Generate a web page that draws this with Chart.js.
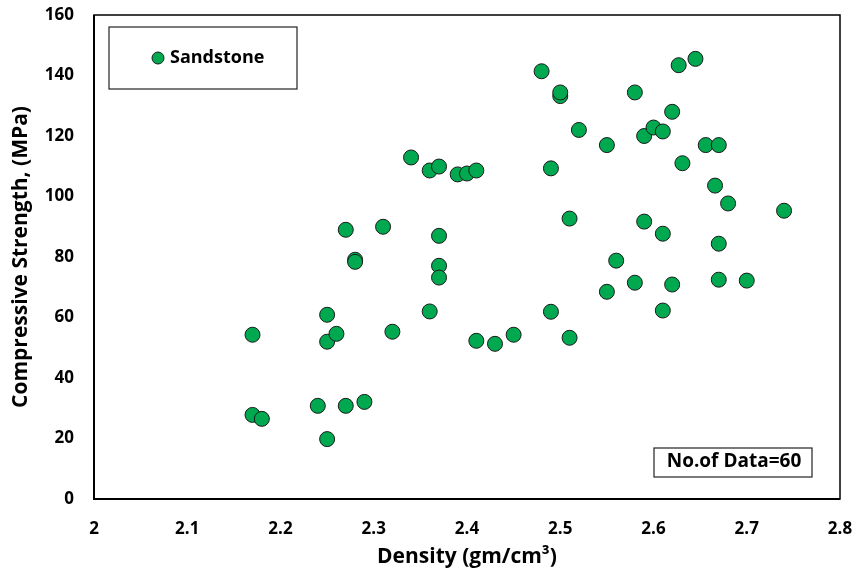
<!DOCTYPE html>
<html>
<head>
<meta charset="utf-8">
<script src="https://cdn.jsdelivr.net/npm/chart.js@4"></script>
<style>
  html, body { margin: 0; padding: 0; background: #fff; }
  #wrap { width: 858px; height: 576px; }
</style>
</head>
<body>
<div id="wrap"><canvas id="scatter" width="858" height="576"></canvas></div>
<script>
// Density (gm/cm3) and compressive strength (MPa)
const density = [
  2.17, 2.17, 2.18, 2.24, 2.25, 2.27, 2.29, 2.25, 2.25, 2.26,
  2.27, 2.28, 2.28, 2.31, 2.32, 2.34, 2.36, 2.37, 2.36, 2.37,
  2.37, 2.37, 2.39, 2.40, 2.41, 2.41, 2.43, 2.45, 2.48, 2.49,
  2.49, 2.50, 2.50, 2.51, 2.51, 2.52, 2.55, 2.55, 2.56, 2.58,
  2.58, 2.59, 2.59, 2.60, 2.61, 2.61, 2.61, 2.62, 2.62, 2.627,
  2.645, 2.631, 2.656, 2.67, 2.666, 2.68, 2.67, 2.67, 2.70, 2.74
];
const strength = [
  54.3, 27.8, 26.5, 30.8, 19.8, 30.8, 32.1, 60.9, 52.0, 54.6,
  89.0, 79.1, 78.4, 90.0, 55.3, 112.9, 108.6, 109.9, 62.0, 87.0,
  77.1, 73.2, 107.3, 107.6, 108.6, 52.3, 51.3, 54.3, 141.4, 109.3,
  61.9, 133.2, 134.4, 92.7, 53.3, 122.0, 117.0, 68.5, 78.8, 134.4,
  71.5, 120.0, 91.7, 122.8, 121.5, 87.7, 62.3, 128.0, 70.9, 143.4,
  145.5, 111.0, 117.0, 117.0, 103.6, 97.7, 84.4, 72.5, 72.2, 95.3
];
const xTicks = [2, 2.1, 2.2, 2.3, 2.4, 2.5, 2.6, 2.7, 2.8];
const yTicks = [0, 20, 40, 60, 80, 100, 120, 140, 160];
const seriesName = 'Sandstone';
const noteText = 'No.of Data=60';

const FONT = '"Open Sans", sans-serif';
const GREEN = '#00A850';

const points = density.map((d, i) => ({ x: d, y: strength[i] }));

// frame, legend box and the note box
const decorations = {
  id: 'decorations',
  afterDraw(chart) {
    const { ctx, chartArea: a } = chart;
    ctx.save();
    ctx.strokeStyle = '#000';
    ctx.lineWidth = 1.5;
    ctx.strokeRect(a.left, a.top, a.right - a.left, a.bottom - a.top);
    ctx.lineWidth = 2;
    ctx.beginPath();
    ctx.moveTo(a.left, a.top);
    ctx.lineTo(a.left, a.bottom);
    ctx.lineTo(a.right, a.bottom);
    ctx.stroke();

    // legend
    ctx.lineWidth = 1.2;
    ctx.strokeStyle = '#222';
    ctx.strokeRect(a.left + 15, a.top + 12, 188, 62);
    ctx.beginPath();
    ctx.arc(a.left + 64, a.top + 43, 6, 0, Math.PI * 2);
    ctx.fillStyle = GREEN;
    ctx.fill();
    ctx.lineWidth = 1;
    ctx.strokeStyle = '#1a1a1a';
    ctx.stroke();
    ctx.fillStyle = '#000';
    ctx.font = 'bold 18px ' + FONT;
    ctx.textBaseline = 'middle';
    ctx.textAlign = 'left';
    ctx.fillText(seriesName, a.left + 76, a.top + 43);

    // note box
    ctx.lineWidth = 1.2;
    ctx.strokeStyle = '#222';
    ctx.strokeRect(654, 448, 158, 29);
    ctx.font = 'bold 19px ' + FONT;
    ctx.textAlign = 'center';
    ctx.fillText(noteText, 734, 462);
    ctx.restore();
  }
};

new Chart(document.getElementById('scatter'), {
  type: 'scatter',
  data: {
    datasets: [{
      label: seriesName,
      data: points,
      backgroundColor: GREEN,
      borderColor: '#1a1a1a',
      borderWidth: 1,
      pointRadius: 7.5,
      pointHoverRadius: 7.5
    }]
  },
  options: {
    responsive: false,
    animation: false,
    layout: { padding: { top: 15, right: 18, left: 0, bottom: 0 } },
    plugins: {
      legend: { display: false },
      tooltip: { enabled: false }
    },
    scales: {
      x: {
        type: 'linear',
        min: 2, max: 2.8,
        afterBuildTicks: (s) => { s.ticks = xTicks.map(v => ({ value: v })); },
        afterFit: (s) => { s.height = 77; s.paddingLeft = 0; s.paddingRight = 0; },
        grid: { display: false },
        border: { display: false },
        ticks: {
          color: '#000',
          padding: 12,
          font: { family: FONT, size: 17, weight: 'bold' },
          callback: (v) => String(+v.toFixed(1))
        },
        title: {
          display: true,
          text: 'Density (gm/cm³)',
          color: '#000',
          padding: { top: 4, bottom: 6 },
          font: { family: FONT, size: 21, weight: 'bold' }
        }
      },
      y: {
        type: 'linear',
        min: 0, max: 160,
        afterBuildTicks: (s) => { s.ticks = yTicks.map(v => ({ value: v })); },
        afterFit: (s) => { s.width = 94; s.paddingTop = 0; s.paddingBottom = 0; },
        grid: { display: false },
        border: { display: false },
        ticks: {
          color: '#000',
          padding: 12,
          font: { family: FONT, size: 17, weight: 'bold' }
        },
        title: {
          display: true,
          text: 'Compressive Strength, (MPa)',
          color: '#000',
          padding: { bottom: 0, top: 8 },
          font: { family: FONT, size: 21, weight: 'bold' }
        }
      }
    }
  },
  plugins: [decorations]
});
</script>
</body>
</html>
